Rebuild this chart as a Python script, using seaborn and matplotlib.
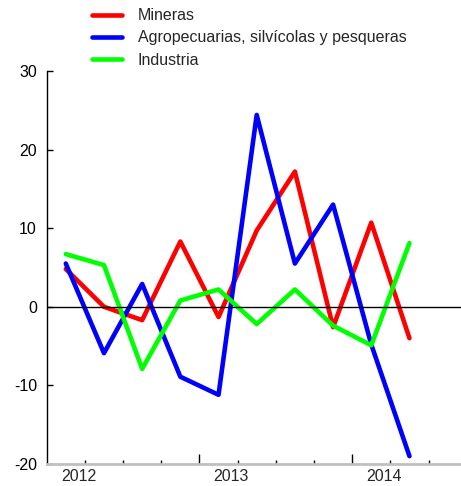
import pandas as pd
import matplotlib
matplotlib.use('Agg')
import matplotlib.pyplot as plt
import numpy as np
import seaborn as sns

# quarterly values, 2012 Q1 - 2014 Q2
quarters = ['2012T1', '2012T2', '2012T3', '2012T4',
            '2013T1', '2013T2', '2013T3', '2013T4',
            '2014T1', '2014T2']
mineras = [4.8, 0.0, -1.7, 8.3, -1.3, 9.7, 17.2, -2.6, 10.7, -4.0]
agro = [5.5, -5.9, 2.9, -8.9, -11.2, 24.4, 5.5, 13.0, -4.8, -19.0]
industria = [6.7, 5.3, -7.9, 0.8, 2.2, -2.2, 2.2, -2.4, -4.9, 8.1]
years = ['2012', '2013', '2014']

series = {'Mineras': mineras,
          'Agropecuarias, silvícolas y pesqueras': agro,
          'Industria': industria}
colors = ['#ff0000', '#0000ff', '#00ff00']

rows = []
for name, vals in series.items():
    for i, (q, v) in enumerate(zip(quarters, vals)):
        rows.append({'pos': i + 0.5, 'quarter': q, 'serie': name, 'valor': v})
df = pd.DataFrame(rows)

sns.set_style('white')
plt.rcParams['font.family'] = ['Liberation Sans', 'DejaVu Sans']
plt.rcParams['axes.unicode_minus'] = False
fs = 11.5

fig = plt.figure(figsize=(4.61, 4.86), dpi=100)
ax = fig.add_axes([0.1013, 0.0453, 0.8987, 0.8087])

sns.lineplot(data=df, x='pos', y='valor', hue='serie', palette=colors,
             linewidth=3.3, ax=ax, legend=True)
ax.axhline(0, color='black', lw=1, zorder=3)

ax.set_xlim(0, 10.85)
ax.set_ylim(-20, 30)
ax.set_xlabel('')
ax.set_ylabel('')

ax.set_yticks([-20, -10, 0, 10, 20, 30])
ax.tick_params(axis='y', direction='in', length=4, width=1, pad=7,
               labelsize=fs, left=True, colors='black')

ax.set_xticks([4, 8])
ax.set_xticklabels([])
ax.set_xticks([1, 2, 3, 5, 6, 7, 9, 10], minor=True)
ax.tick_params(axis='x', which='major', direction='in', length=7, width=1,
               bottom=True, color='black')
ax.tick_params(axis='x', which='minor', direction='in', length=3, width=1,
               bottom=True, color='black')
for k, yr in enumerate(years):
    ax.text(0.83 + 4 * k, -0.014, yr, transform=ax.get_xaxis_transform(),
            ha='center', va='top', fontsize=fs)

for s in ['top', 'right']:
    ax.spines[s].set_visible(False)
ax.spines['left'].set_color('black')
ax.spines['left'].set_linewidth(1)
ax.spines['bottom'].set_color('#c0c0c0')
ax.spines['bottom'].set_linewidth(2)

handles, labels = ax.get_legend_handles_labels()
ax.get_legend().remove()
fig.legend(handles, labels, loc='upper left', bbox_to_anchor=(0.178, 1.003),
           frameon=False, fontsize=fs, handlelength=1.9, handletextpad=1.0,
           labelspacing=0.45, borderaxespad=0.2)

fig.savefig('out.png', dpi=100)
